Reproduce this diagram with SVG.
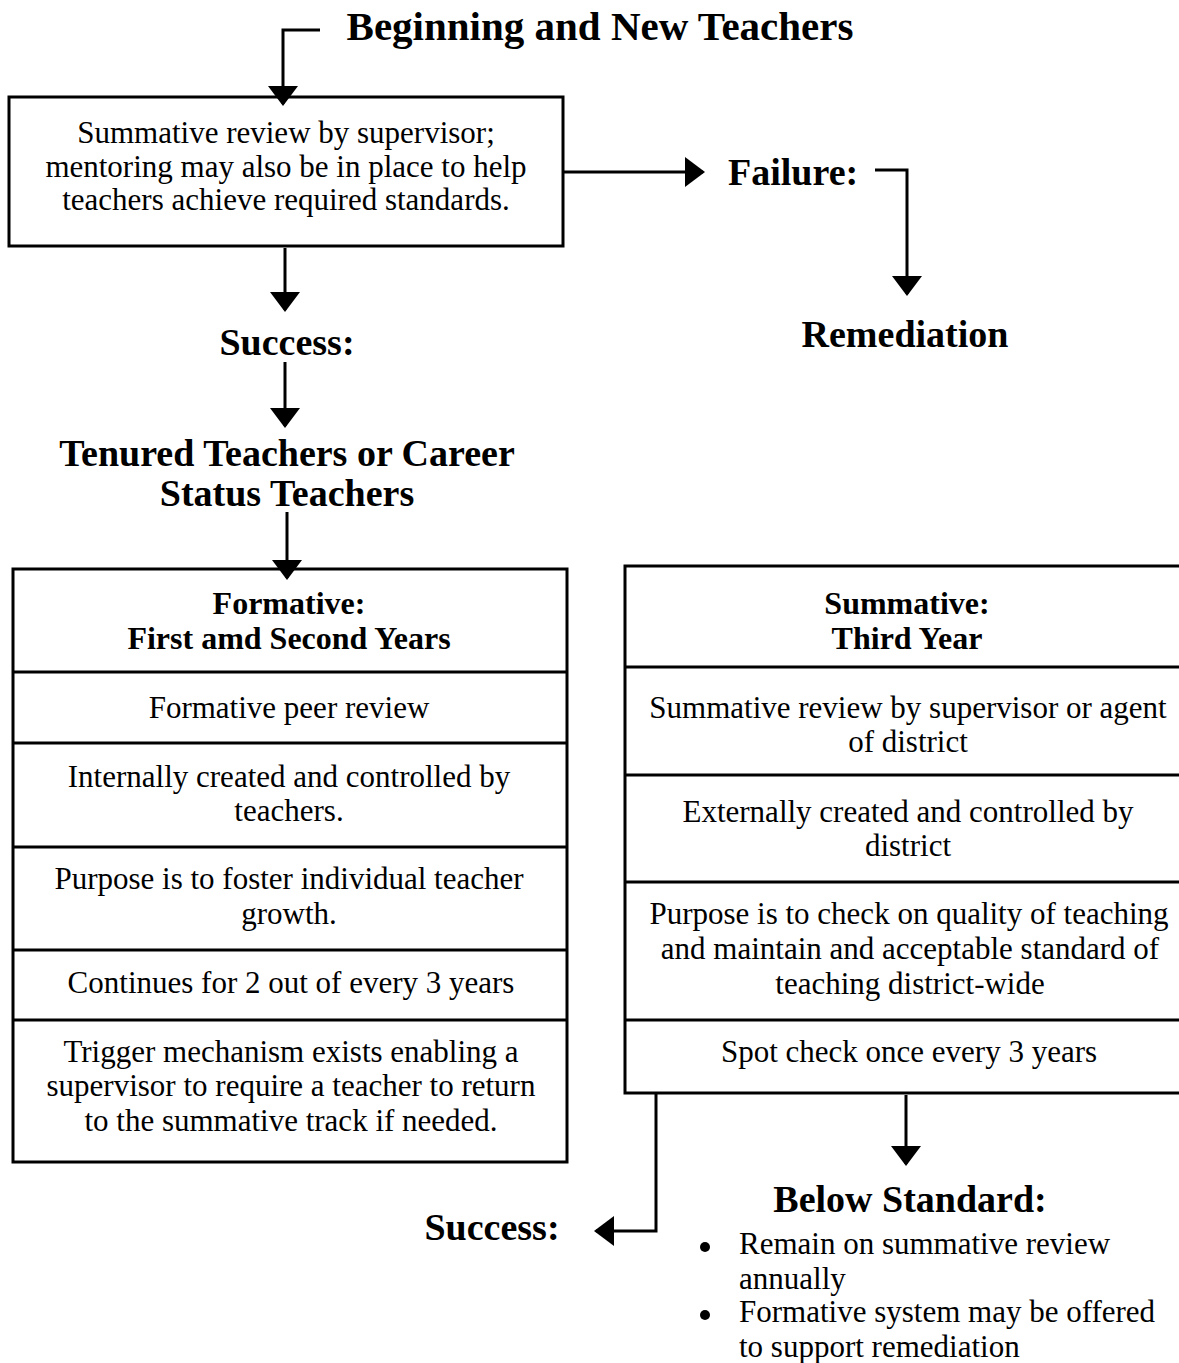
<svg xmlns="http://www.w3.org/2000/svg" width="1179" height="1363" viewBox="0 0 1179 1363">
<style>
.box{fill:none;stroke:#000;stroke-width:3}
.div{stroke:#000;stroke-width:3}
.con{fill:none;stroke:#000;stroke-width:3}
text{font-family:"Liberation Serif","Times New Roman",serif;fill:#000}
.body{font-size:31px;text-anchor:middle}
.left{font-size:31px;text-anchor:start}
.hdr{font-size:32px;font-weight:bold;text-anchor:middle}
.lbl{font-size:38px;font-weight:bold;text-anchor:middle}
.title{font-size:41px;font-weight:bold;text-anchor:middle}
</style>
<defs>
<marker id="arr" markerUnits="userSpaceOnUse" viewBox="0 0 20 30" refX="18" refY="15" markerWidth="20" markerHeight="30" orient="auto">
<path d="M0,0 L20,15 L0,30 Z" fill="#000"/>
</marker>
</defs>
<rect width="1179" height="1363" fill="#fff"/>

<g id="connectors">
<path class="con" d="M320,30 H283 V104" marker-end="url(#arr)"/>
<path class="con" d="M563,172 H703" marker-end="url(#arr)"/>
<path class="con" d="M875,170 H907 V294" marker-end="url(#arr)"/>
<path class="con" d="M285,248 V310" marker-end="url(#arr)"/>
<path class="con" d="M285,362 V426" marker-end="url(#arr)"/>
<path class="con" d="M287,512 V578" marker-end="url(#arr)"/>
<path class="con" d="M656,1094 V1231 H596" marker-end="url(#arr)"/>
<path class="con" d="M906,1095 V1164" marker-end="url(#arr)"/>
</g>

<g id="title">
<text class="title" x="600" y="40">Beginning and New Teachers</text>
</g>

<g id="box-summative-review">
<rect class="box" x="9" y="97" width="554" height="149"/>
<text class="body" x="286" y="143">Summative review by supervisor;</text>
<text class="body" x="286" y="177">mentoring may also be in place to help</text>
<text class="body" x="286" y="210">teachers achieve required standards.</text>
</g>

<g id="failure">
<text class="lbl" x="728" y="185" style="text-anchor:start">Failure:</text>
</g>

<g id="remediation">
<text class="lbl" x="905" y="347">Remediation</text>
</g>

<g id="success-top">
<text class="lbl" x="287" y="355">Success:</text>
</g>

<g id="tenured">
<text class="lbl" x="287" y="466">Tenured Teachers or Career</text>
<text class="lbl" x="287" y="506">Status Teachers</text>
</g>

<g id="box-formative">
<rect class="box" x="13" y="569" width="554" height="593"/>
<line class="div" x1="13" y1="672" x2="567" y2="672"/>
<line class="div" x1="13" y1="743" x2="567" y2="743"/>
<line class="div" x1="13" y1="847" x2="567" y2="847"/>
<line class="div" x1="13" y1="950" x2="567" y2="950"/>
<line class="div" x1="13" y1="1020" x2="567" y2="1020"/>
<text class="hdr" x="289" y="614">Formative:</text>
<text class="hdr" x="289" y="649">First amd Second Years</text>
<text class="body" x="289" y="718">Formative peer review</text>
<text class="body" x="289" y="787">Internally created and controlled by</text>
<text class="body" x="289" y="821">teachers.</text>
<text class="body" x="289" y="889">Purpose is to foster individual teacher</text>
<text class="body" x="289" y="924">growth.</text>
<text class="body" x="291" y="993">Continues for 2 out of every 3 years</text>
<text class="body" x="291" y="1062">Trigger mechanism exists enabling a</text>
<text class="body" x="291" y="1096">supervisor to require a teacher to return</text>
<text class="body" x="291" y="1131">to the summative track if needed.</text>
</g>

<g id="box-summative">
<rect class="box" x="625" y="566" width="556" height="527"/>
<line class="div" x1="625" y1="667" x2="1181" y2="667"/>
<line class="div" x1="625" y1="775" x2="1181" y2="775"/>
<line class="div" x1="625" y1="882" x2="1181" y2="882"/>
<line class="div" x1="625" y1="1020" x2="1181" y2="1020"/>
<text class="hdr" x="907" y="614">Summative:</text>
<text class="hdr" x="907" y="649">Third Year</text>
<text class="body" x="908" y="718">Summative review by supervisor or agent</text>
<text class="body" x="908" y="752">of district</text>
<text class="body" x="908" y="822">Externally created and controlled by</text>
<text class="body" x="908" y="856">district</text>
<text class="body" x="909" y="924">Purpose is to check on quality of teaching</text>
<text class="body" x="910" y="959">and maintain and acceptable standard of</text>
<text class="body" x="910" y="994">teaching district-wide</text>
<text class="body" x="909" y="1062">Spot check once every 3 years</text>
</g>

<g id="success-bottom">
<text class="lbl" x="492" y="1240">Success:</text>
</g>

<g id="below-standard">
<text class="lbl" x="910" y="1212">Below Standard:</text>
<circle cx="705" cy="1247" r="5"/>
<circle cx="705" cy="1315" r="5"/>
<text class="left" x="739" y="1254">Remain on summative review</text>
<text class="left" x="739" y="1289">annually</text>
<text class="left" x="739" y="1322">Formative system may be offered</text>
<text class="left" x="739" y="1357">to support remediation</text>
</g>
</svg>
